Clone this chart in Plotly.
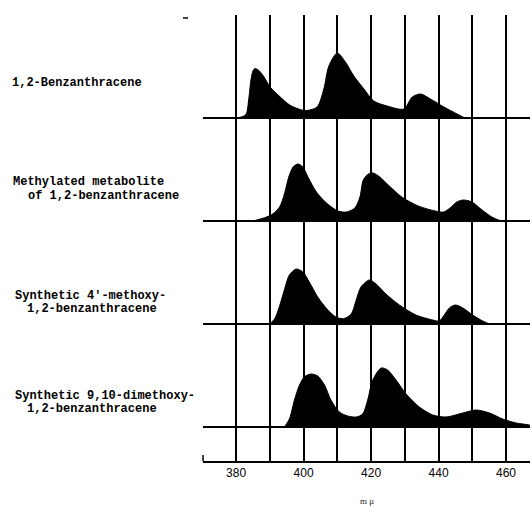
import plotly.graph_objects as go

# ---------------- data ----------------
# wavelengths in m-mu, relative intensities
wl_benz = [380, 382, 383, 383.8, 384.4, 385.0, 385.6, 386.6, 388.1, 390.1, 393.1, 396.0,
           399.5, 401.0, 404.0, 406.0, 407.5, 410.0, 412.4, 414.9, 417.9, 420.8, 424.8, 429.7,
           432.2, 434.7, 437.6, 441.6, 445.5, 447.8]
int_benz = [0, 1.5, 4, 20, 38, 47, 49.5, 48, 42, 31, 21, 12.7,
            8, 7.5, 11, 29, 52, 65, 56, 42, 29, 17, 12, 9,
            21, 24, 19, 11, 4, 0]

wl_meta = [385, 387.9, 390.4, 392.9, 394.4, 395.6, 396.9, 398.3, 399.8, 401.3, 403.8, 406.8,
           410.2, 412.7, 415.2, 416.7, 417.7, 419.2, 420.6, 422.6, 425.1, 429.1, 434.0, 439.0,
           441.5, 443.4, 445.4, 447.4, 449.9, 452.9, 455.8, 457.8, 459]
int_meta = [0, 2.7, 6, 14, 28, 44, 54, 57, 54, 44, 29, 18,
            10, 9, 13, 24, 41, 47, 48, 44, 36, 24, 15, 10,
            9, 13, 19, 21, 19, 11, 4, 1, 0]

wl_4meo = [389.9, 391.4, 392.8, 394.3, 395.8, 397.8, 399.8, 401.7, 404.2, 407.2, 409.6, 411.8,
           414.1, 415.6, 417.0, 419.5, 421.5, 424.4, 428.4, 433.3, 438.3, 440.2, 441.7, 443.2,
           445.0, 447.2, 450.1, 453.1, 455.1]
int_4meo = [0, 5, 17, 34, 49, 55, 52, 42, 27, 14, 7, 5.3,
            10, 24, 37, 44, 40, 30, 19, 9, 4, 3, 9, 16,
            19, 16, 9, 3, 0]

wl_910 = [394.3, 395.8, 397.3, 398.8, 400.2, 402.2, 404.2, 406.2, 408.1, 410.6, 413.1, 415.6,
          417.5, 419.0, 420.5, 423.0, 424.9, 427.4, 430.4, 434.3, 438.3, 442.2, 447.2, 451.1,
          455.1, 459.0, 463.0, 466.9, 467.1]
int_910 = [0, 8, 27, 42, 50, 53, 51, 42, 27, 15, 11, 10,
           13, 27, 47, 59, 57, 47, 33, 20, 12, 10, 14, 17,
           14, 8, 4, 2, 1.5]

labels = [
    ["1,2-Benzanthracene"],
    ["Methylated metabolite", "of 1,2-benzanthracene"],
    ["Synthetic 4'-methoxy-", "1,2-benzanthracene"],
    ["Synthetic 9,10-dimethoxy-", "1,2-benzanthracene"],
]

tick_vals = [380, 400, 420, 440, 460]
tick_text = ["380", "400", "420", "440", "460"]
grid_minor = [390, 410, 430, 450]
x_title = "m \u03bc"

# ---------------- layout constants ----------------
W, H = 530, 508
ML, MR, MT, MB = 203, 0, 15, 47
PW = W - ML - MR
PH = H - MT - MB
offsets = [343, 240, 137, 34]  # baseline of each strip
series = [(wl_benz, int_benz), (wl_meta, int_meta), (wl_4meo, int_4meo), (wl_910, int_910)]

fig = go.Figure()
for (wl, it), off in zip(series, offsets):
    fig.add_trace(go.Scatter(x=[wl[0], wl[-1]], y=[off, off], mode="lines",
                             line=dict(width=0, color="black"), showlegend=False,
                             hoverinfo="skip"))
    fig.add_trace(go.Scatter(x=wl, y=[off + v for v in it], mode="lines",
                             line=dict(color="black", width=1, shape="spline", smoothing=0.8),
                             fill="tonexty", fillcolor="black", showlegend=False))

# page pixel -> paper coords
def px_x(px):
    return (px - ML) / PW

def px_y(py):
    return (MT + PH - py) / PH

shapes = []
for off in offsets:
    shapes.append(dict(type="line", xref="paper", yref="y", x0=0, x1=1, y0=off, y1=off,
                       line=dict(color="black", width=2)))
# small hook at left end of bottom axis
shapes.append(dict(type="line", xref="paper", yref="y", x0=0, x1=0, y0=0, y1=6,
                   line=dict(color="black", width=1.5)))
# small scan mark top-left
shapes.append(dict(type="line", xref="paper", yref="paper",
                   x0=px_x(183), x1=px_x(188), y0=px_y(18), y1=px_y(18),
                   line=dict(color="black", width=1.5)))

annotations = []
label_pos = [
    [(10, 83)],
    [(11, 182), (26, 196)],
    [(13, 296), (25, 309)],
    [(13, 396), (25, 409)],
]
for lines, poss in zip(labels, label_pos):
    for txt, (px, py) in zip(lines, poss):
        annotations.append(dict(text="<b>" + txt + "</b>", xref="paper", yref="paper",
                                x=px_x(px), y=px_y(py),
                                xanchor="left", yanchor="middle", showarrow=False,
                                font=dict(family="Liberation Mono", size=12, color="black")))
annotations.append(dict(text=x_title, xref="paper", yref="paper", x=px_x(367),
                        y=px_y(501), xanchor="center", yanchor="middle",
                        showarrow=False,
                        font=dict(family="Liberation Serif", size=9, color="#222222")))

fig.update_layout(
    width=W, height=H,
    margin=dict(l=ML, r=MR, t=MT, b=MB, pad=0),
    paper_bgcolor="white", plot_bgcolor="white",
    shapes=shapes, annotations=annotations,
    xaxis=dict(range=[370.2, 467.1], tickvals=tick_vals, ticktext=tick_text,
               showgrid=True, gridcolor="black", gridwidth=1.6,
               minor=dict(tickvals=grid_minor, showgrid=True, gridcolor="black", gridwidth=1.6),
               showline=True, linecolor="black", linewidth=1.5, zeroline=False,
               ticks="", tickfont=dict(family="Liberation Sans", size=12, color="black")),
    yaxis=dict(range=[0, PH], visible=False, showgrid=False, zeroline=False),
)

fig.write_html(
    "out.html",
    config={"displayModeBar": False},
    post_script="document.body.style.margin='0';document.body.style.overflow='hidden';",
)
